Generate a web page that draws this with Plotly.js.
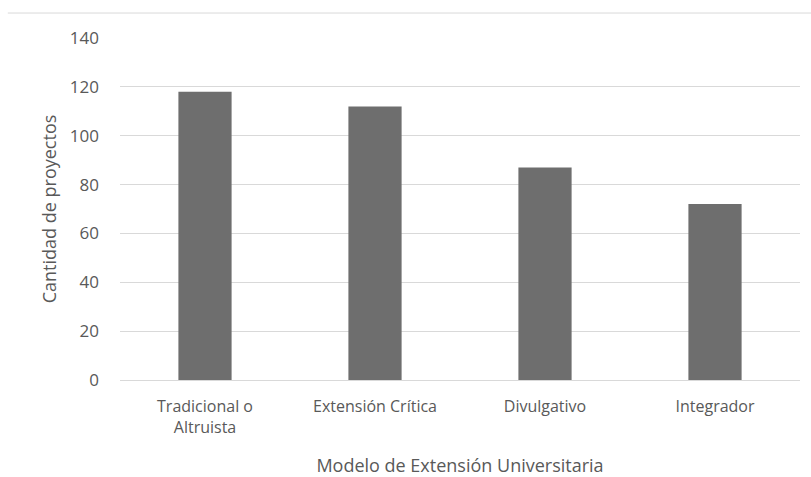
<!DOCTYPE html>
<html>
<head>
<meta charset="utf-8">
<script src="https://cdn.plot.ly/plotly-3.0.1.min.js"></script>
<style>html,body{margin:0;padding:0;background:#fff;}#chart{width:811px;height:477px;}</style>
</head>
<body>
<div id="chart"></div>
<script>
const categories = ["Tradicional o<br>Altruista", "Extensión Crítica", "Divulgativo", "Integrador"];
const values = [118, 112, 87, 72];
const yTicks = [0, 20, 40, 60, 80, 100, 120, 140];

const fontFam = "'Open Sans', 'Noto Sans', sans-serif";
const trace = {
  type: "bar",
  x: categories,
  y: values,
  marker: {color: "#6e6e6e"},
  hoverinfo: "x+y"
};
const layout = {
  width: 811, height: 477,
  margin: {l: 120, r: 11, t: 38, b: 97},
  paper_bgcolor: "#ffffff",
  plot_bgcolor: "#ffffff",
  bargap: 0.687,
  showlegend: false,
  font: {family: fontFam, color: "#595959", size: 16},
  xaxis: {
    type: "category",
    showgrid: false,
    showline: true, linecolor: "#d9d9d9", linewidth: 1,
    ticks: "", ticklabelstandoff: 12,
    tickfont: {size: 16, color: "#595959"},
    title: {text: "Modelo de Extensión Universitaria", font: {size: 18, color: "#595959"}, standoff: 23}
  },
  yaxis: {
    range: [0, 140],
    tickvals: yTicks,
    ticktext: yTicks.map(String),
    showgrid: true, gridcolor: "#d9d9d9", gridwidth: 1,
    zeroline: false, showline: false,
    ticks: "", ticklabelstandoff: 20,
    tickfont: {size: 17, color: "#595959"},
    title: {text: "Cantidad de proyectos", font: {size: 18, color: "#595959"}, standoff: 8}
  },
  shapes: [
    {type: "line", xref: "paper", yref: "paper", x0: -0.165, x1: 1.02, y0: 1.073, y1: 1.073,
     line: {color: "#d9d9d9", width: 1}}
  ]
};
Plotly.newPlot("chart", [trace], layout, {displayModeBar: false, staticPlot: true});
</script>
</body>
</html>
